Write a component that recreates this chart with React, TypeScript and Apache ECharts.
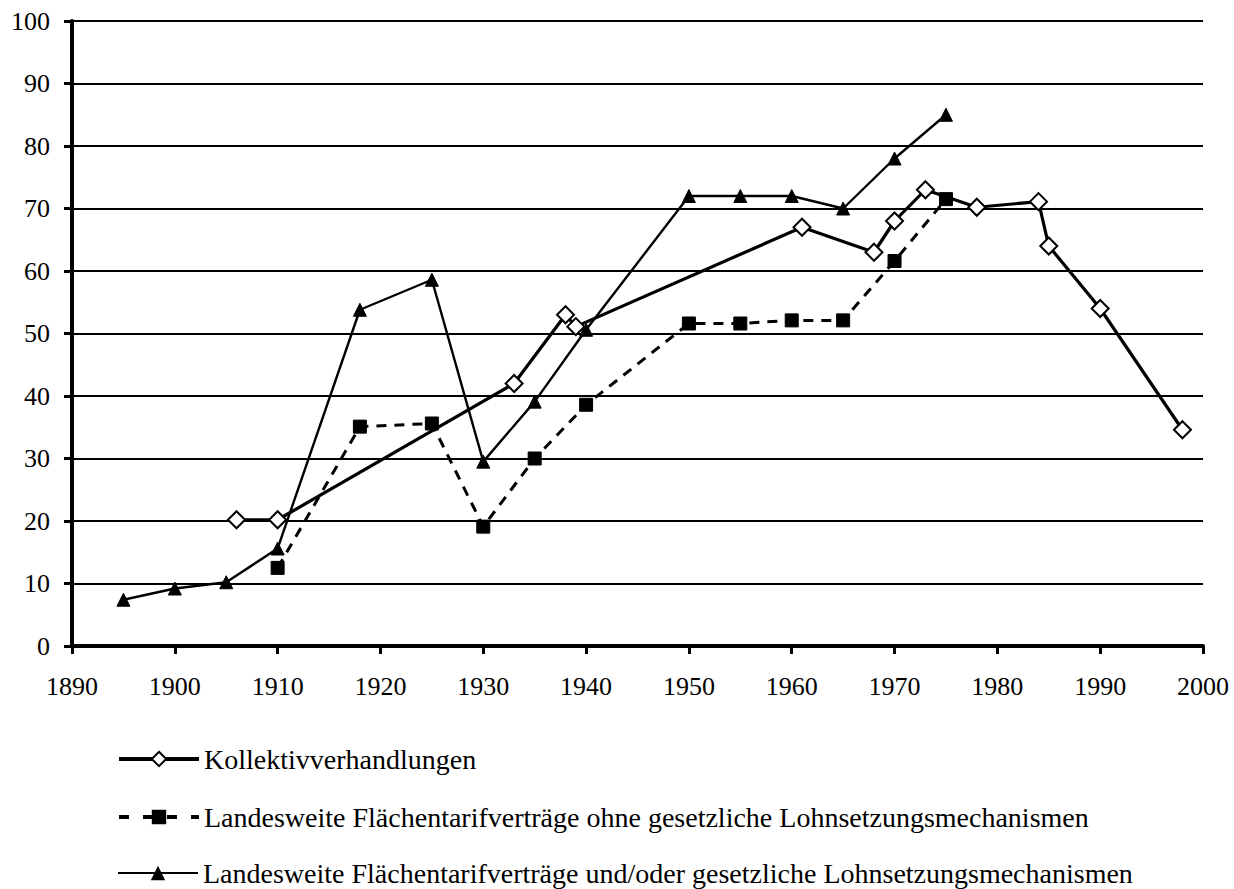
import React, { useEffect, useRef } from "react";
import * as echarts from "echarts";

const kollektivYears = [1906, 1910, 1933, 1938, 1939, 1961, 1968, 1970, 1973, 1978, 1984, 1985, 1990, 1998];
const kollektivValues = [20.2, 20.2, 42.0, 53.0, 51.1, 67.0, 63.0, 68.0, 73.0, 70.2, 71.1, 64.0, 54.0, 34.6];

const ohneYears = [1910, 1918, 1925, 1930, 1935, 1940, 1950, 1955, 1960, 1965, 1970, 1975];
const ohneValues = [12.5, 35.1, 35.6, 19.1, 30.0, 38.6, 51.6, 51.6, 52.1, 52.1, 61.6, 71.5];

const undOderYears = [1895, 1900, 1905, 1910, 1918, 1925, 1930, 1935, 1940, 1950, 1955, 1960, 1965, 1970, 1975];
const undOderValues = [7.4, 9.2, 10.2, 15.6, 53.8, 58.6, 29.5, 39.1, 50.6, 72.0, 72.0, 72.0, 70.0, 78.0, 85.0];

const seriesNames = [
  "Kollektivverhandlungen",
  "Landesweite Flächentarifverträge ohne gesetzliche Lohnsetzungsmechanismen",
  "Landesweite Flächentarifverträge und/oder gesetzliche Lohnsetzungsmechanismen",
];

const xMin = 1890;
const xMax = 2000;
const yMin = 0;
const yMax = 100;

const zip = (xs: number[], ys: number[]) => xs.map((x, i) => [x, ys[i]]);

export default function App() {
  const ref = useRef<HTMLDivElement>(null);
  useEffect(() => {
    if (!ref.current) return;
    const chart = echarts.init(ref.current, undefined, { renderer: "svg" });
    const font = "Liberation Serif";
    const legendBase = {
      orient: "horizontal",
      left: 117,
      padding: 0,
      itemWidth: 80,
      itemHeight: 18,
      textStyle: { color: "#000", fontSize: 28, lineHeight: 30, fontFamily: font },
    };
    chart.setOption({
      animation: false,
      backgroundColor: "#ffffff",
      textStyle: { fontFamily: font },
      grid: { left: 72, right: 31, top: 21, bottom: 243, containLabel: false },
      xAxis: {
        type: "value",
        min: xMin,
        max: xMax,
        interval: 10,
        axisLine: { show: true, onZero: false, lineStyle: { color: "#000", width: 4 } },
        axisTick: { show: true, inside: false, length: 8, lineStyle: { color: "#000", width: 3 } },
        axisLabel: { color: "#000", fontSize: 26, fontFamily: font, margin: 27, formatter: (v: number) => String(v) },
        splitLine: { show: false },
      },
      yAxis: {
        type: "value",
        min: yMin,
        max: yMax,
        interval: 10,
        axisLine: { show: true, lineStyle: { color: "#000", width: 4 } },
        axisTick: { show: true, inside: false, length: 8, lineStyle: { color: "#000", width: 3 } },
        axisLabel: { color: "#000", fontSize: 26, fontFamily: font, margin: 22 },
        splitLine: { show: true, lineStyle: { color: "#000", width: 2 } },
      },
      legend: [
        { ...legendBase, top: 744, data: [{ name: seriesNames[0], lineStyle: { width: 4 } }] },
        { ...legendBase, top: 802, data: [{ name: seriesNames[1], lineStyle: { width: 4, type: [10, 14] } }] },
        { ...legendBase, top: 858, data: [{ name: seriesNames[2], lineStyle: { width: 2 } }] },
      ],
      series: [
        {
          name: seriesNames[2],
          type: "line",
          data: zip(undOderYears, undOderValues),
          symbol: "triangle",
          symbolSize: 13,
          itemStyle: { color: "#000", borderColor: "#000" },
          lineStyle: { color: "#000", width: 2.4, type: "solid" },
          z: 3,
        },
        {
          name: seriesNames[1],
          type: "line",
          data: zip(ohneYears, ohneValues),
          symbol: "rect",
          symbolSize: 13,
          itemStyle: { color: "#000", borderColor: "#000" },
          lineStyle: { color: "#000", width: 3, type: [10, 8] },
          z: 4,
        },
        {
          name: seriesNames[0],
          type: "line",
          data: zip(kollektivYears, kollektivValues),
          symbol: "diamond",
          symbolSize: 17,
          itemStyle: { color: "#fff", borderColor: "#000", borderWidth: 2 },
          lineStyle: { color: "#000", width: 3.2, type: "solid" },
          z: 5,
        },
      ],
    });
    return () => chart.dispose();
  }, []);
  return <div ref={ref} style={{ width: 1234, height: 889, position: "absolute", left: 0, top: 0 }} />;
}
